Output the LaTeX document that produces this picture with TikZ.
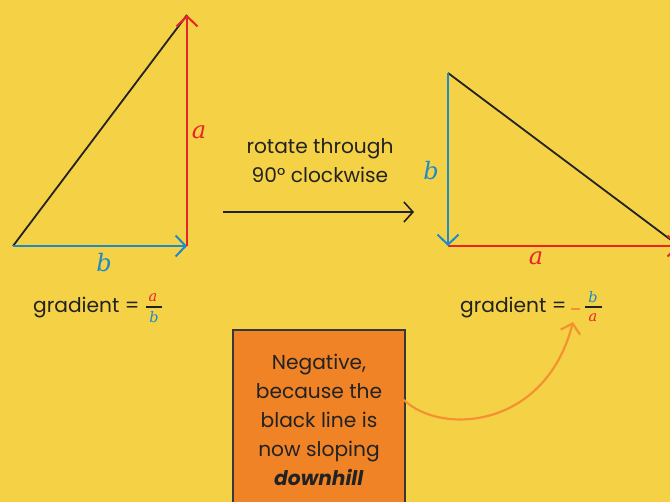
\documentclass[tikz,border=0pt]{standalone}
\usepackage{fontspec}
\setmainfont{Poppins}
\newfontfamily\vfont{DejaVu Serif}
\usetikzlibrary{arrows.meta}
\definecolor{bgY}{HTML}{F5D245}
\definecolor{rd}{HTML}{E8232A}
\definecolor{bl}{HTML}{1E8BC9}
\definecolor{boxO}{HTML}{F08326}
\definecolor{arrO}{HTML}{F39231}
\definecolor{ink}{HTML}{222222}
\tikzset{
  barb/.style={-{Straight Barb[length=10pt,width=21pt,line width=2pt]}},
  redline/.style={draw=rd,line width=2.2pt},
  blueline/.style={draw=bl,line width=2.2pt},
  hyp/.style={draw=ink,line width=1.8pt},
  txt/.style={inner sep=0pt,text=ink,font=\fontsize{20.2}{29}\selectfont},
  lab/.style={inner sep=0pt,font=\fontsize{24}{24}\selectfont\vfont\itshape},
  flab/.style={inner sep=0pt,font=\fontsize{14.5}{14.5}\selectfont\vfont\itshape},
  fbar/.style={draw=ink,line width=2pt},
}
\begin{document}
\begin{tikzpicture}[x=1pt,y=-1pt]
\fill[bgY] (0,0) rectangle (670,502);
\clip (0,0) rectangle (670,502);
\useasboundingbox (0,0) rectangle (670,502);
% left triangle
\coordinate (L1) at (13,246);
\coordinate (L2) at (187,246);
\coordinate (L3) at (187,15);
\draw[hyp] (L1) -- (L3);
\draw[blueline,barb] (L1) -- (L2);
\draw[redline,barb] (L2) -- (L3);
\node[lab,text=rd] (la) at (199,132) {a};
\node[lab,text=bl] (lb) at (104,263) {b};
% right triangle
\coordinate (R1) at (448,73);
\coordinate (R2) at (448,246);
\coordinate (R3) at (679,246);
\draw[hyp] (R1) -- (R3);
\draw[redline,barb] (R2) -- (R3);
\draw[blueline,barb] (R1) -- (R2);
\node[lab,text=bl] (rb) at (431,171) {b};
\node[lab,text=rd] (ra) at (536,258) {a};
% rotate arrow
\coordinate (A1) at (223,212);
\coordinate (A2) at (414,212);
\draw[draw=ink,line width=1.6pt,-{Straight Barb[length=9pt,width=20pt,line width=1.6pt]}] (A1) -- (A2);
\node[txt,align=center] (rot) at (320,161) {rotate through\\90\textdegree\ clockwise};
% gradient left
\node[txt,anchor=west] (g1) at (33,308) {gradient =};
\node[flab,text=rd] (g1n) at (153,298) {a};
\node[flab,text=bl] (g1d) at (154,317) {b};
\coordinate (g1l) at (146,307.5);
\coordinate (g1r) at (162,307.5);
\draw[fbar] (g1l) -- (g1r);
% gradient right
\node[txt,anchor=west] (g2) at (460,308) {gradient =};
\coordinate (mL) at (571,309);
\coordinate (mR) at (580,309);
\draw[draw=arrO,line width=1.8pt] (mL) -- (mR);
\node[flab,text=bl] (g2n) at (593,297) {b};
\node[flab,text=rd] (g2d) at (593,318) {a};
\coordinate (g2l) at (585,307.5);
\coordinate (g2r) at (602,307.5);
\draw[fbar] (g2l) -- (g2r);
% box
\draw[fill=boxO,draw=ink!90,line width=2.6pt] (233,330) rectangle (405,520);
\node[txt,align=center] (box) at (319,420) {Negative,\\because the\\black line is\\now sloping\\\textbf{\textit{downhill}}};
\coordinate (B1) at (404,400);
\coordinate (M) at (573,322);
\draw[draw=arrO,line width=2.2pt,-{Straight Barb[length=9pt,width=20pt,line width=2.2pt]}] (B1) .. controls (440,435) and (545,430) .. (M);
\end{tikzpicture}
\end{document}
